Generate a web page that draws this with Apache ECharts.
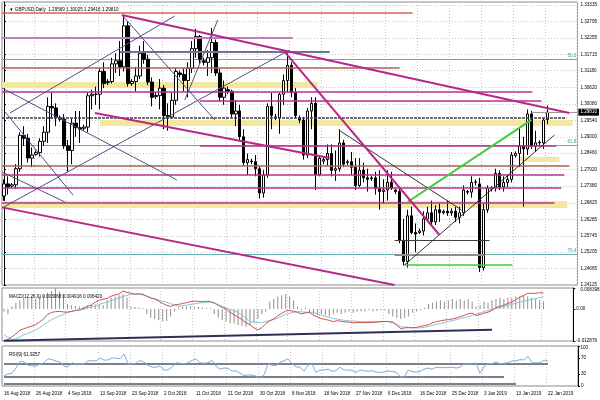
<!DOCTYPE html>
<html><head><meta charset="utf-8">
<script src="https://cdn.jsdelivr.net/npm/echarts@6/dist/echarts.min.js"></script>
<style>html,body{margin:0;padding:0;background:#fff}#c{width:600px;height:400px}</style>
</head><body><div id="c"></div>
<script>
// ---------- DATA ----------
const headerText = '\u25BC GBPUSD,Daily  1.29569 1.30025 1.29416 1.29810';
const macdText = 'MACD(12,26,9) 0.003068 0.004916 0.006420';
const rsiText = 'RSI(9) 61.9257';

const priceTickLabels = ['1.24125','1.24665','1.25205','1.25745','1.26285','1.26825','1.27380','1.27920','1.28460','1.29000','1.29540','1.30080','1.30620','1.31180','1.31715','1.32255','1.32795','1.33335'];
const macdTickLabels = ['-0.012876','0.00','0.008398'];
const rsiTickLabels = ['0','30','70','100'];
const dateTickLabels = ['16 Aug 2018','26 Aug 2018','4 Sep 2018','13 Sep 2018','23 Sep 2018','2 Oct 2018','11 Oct 2018','21 Oct 2018','30 Oct 2018','8 Nov 2018','18 Nov 2018','27 Nov 2018','6 Dec 2018','16 Dec 2018','25 Dec 2018','3 Jan 2019','13 Jan 2019','22 Jan 2019'];

const opens = [1.2705,1.2745,1.2738,1.2742,1.2795,1.2905,1.2895,1.2830,1.2842,1.2848,
1.2885,1.2915,1.3000,1.2995,1.2962,1.2958,1.2870,1.2855,1.2945,1.2930,
1.2928,1.2932,1.3035,1.3040,1.3040,1.3115,1.3078,1.3082,1.3140,1.3150,
1.3130,1.3265,1.3075,1.3082,1.3100,1.3175,1.3155,1.3080,1.3032,1.3036,
1.3060,1.2970,1.2965,1.3020,1.3110,1.3105,1.3085,1.3125,1.3190,1.3230,
1.3150,1.3145,1.3160,1.3210,1.3110,1.3030,1.3055,1.3050,1.2975,1.2985,
1.2900,1.2815,1.2820,1.2818,1.2795,1.2715,1.2775,1.3000,1.2965,1.2962,
1.3040,1.3085,1.3135,1.3045,1.2962,1.2955,1.2840,1.2985,1.3010,1.2775,
1.2820,1.2825,1.2845,1.2790,1.2795,1.2880,1.2815,1.2818,1.2800,1.2740,
1.2790,1.2765,1.2762,1.2765,1.2730,1.2720,1.2725,1.2750,1.2725,1.2720,
1.2560,1.2490,1.2640,1.2585,1.2585,1.2590,1.2630,1.2650,1.2620,1.2660,
1.2650,1.2655,1.2650,1.2655,1.2635,1.2650,1.2720,1.2718,1.2750,1.2745,
1.2470,1.2660,1.2728,1.2732,1.2780,1.2735,1.2750,1.2760,1.2838,1.2845,
1.2870,1.2860,1.2975,1.2870,1.2882,1.2880,1.29569];
const closes = [1.2745,1.2735,1.2742,1.2795,1.2905,1.2895,1.2830,1.2840,1.2848,1.2885,
1.2915,1.3000,1.2995,1.2965,1.2958,1.2870,1.2855,1.2945,1.2930,1.2925,
1.2932,1.3035,1.3040,1.3040,1.3115,1.3075,1.3082,1.3140,1.3150,1.3130,
1.3265,1.3075,1.3082,1.3100,1.3175,1.3155,1.3080,1.3030,1.3036,1.3060,
1.2970,1.2965,1.3020,1.3115,1.3105,1.3085,1.3125,1.3190,1.3230,1.3155,
1.3145,1.3160,1.3210,1.3110,1.3030,1.3060,1.3050,1.2975,1.2985,1.2900,
1.2815,1.2825,1.2818,1.2795,1.2715,1.2775,1.3000,1.2970,1.2962,1.3040,
1.3085,1.3135,1.3045,1.2970,1.2955,1.2840,1.2985,1.3010,1.2775,1.2830,
1.2825,1.2845,1.2790,1.2795,1.2880,1.2810,1.2818,1.2800,1.2740,1.2790,
1.2765,1.2760,1.2765,1.2730,1.2720,1.2725,1.2750,1.2730,1.2720,1.2560,
1.2490,1.2640,1.2585,1.2580,1.2590,1.2630,1.2650,1.2620,1.2660,1.2650,
1.2655,1.2650,1.2655,1.2635,1.2650,1.2725,1.2718,1.2750,1.2752,1.2470,
1.2660,1.2730,1.2732,1.2780,1.2735,1.2750,1.2760,1.2840,1.2845,1.2870,
1.2860,1.2975,1.2870,1.2880,1.2880,1.2955,1.29810];
const lows = [1.2690,1.2710,1.2732,1.2730,1.2785,1.2870,1.2815,1.2800,1.2838,1.2835,
1.2870,1.2880,1.2960,1.2935,1.2950,1.2860,1.2785,1.2810,1.2900,1.2880,
1.2920,1.2915,1.2990,1.3005,1.2990,1.3060,1.3070,1.3075,1.3110,1.3100,
1.3115,1.3065,1.3068,1.3050,1.3090,1.3140,1.3070,1.3000,1.3025,1.2990,
1.2925,1.2920,1.2960,1.3005,1.3095,1.3050,1.3030,1.3110,1.3160,1.3140,
1.3135,1.3100,1.3110,1.3100,1.3015,1.3005,1.3040,1.2965,1.2935,1.2885,
1.2805,1.2775,1.2810,1.2770,1.2697,1.2700,1.2765,1.2925,1.2955,1.2910,
1.3005,1.3045,1.3030,1.2960,1.2945,1.2825,1.2830,1.2925,1.2725,1.2770,
1.2810,1.2805,1.2770,1.2755,1.2785,1.2800,1.2808,1.2775,1.2725,1.2735,
1.2750,1.2720,1.2755,1.2710,1.2660,1.2680,1.2690,1.2725,1.2712,1.2550,
1.2477,1.2470,1.2580,1.2520,1.2580,1.2575,1.2620,1.2610,1.2610,1.2620,
1.2645,1.2640,1.2640,1.2620,1.2615,1.2640,1.2710,1.2700,1.2740,1.2455,
1.2460,1.2650,1.2720,1.2720,1.2725,1.2720,1.2735,1.2750,1.2832,1.2800,
1.2670,1.2840,1.2860,1.2850,1.2872,1.2860,1.29416];
const highs = [1.2760,1.2770,1.2748,1.2810,1.2915,1.2935,1.2910,1.2865,1.2855,1.2895,
1.2935,1.3030,1.3045,1.3010,1.2970,1.2975,1.2890,1.2960,1.2985,1.2985,
1.2940,1.3045,1.3055,1.3065,1.3125,1.3145,1.3090,1.3160,1.3175,1.3215,
1.3298,1.3280,1.3090,1.3130,1.3200,1.3215,1.3170,1.3095,1.3045,1.3090,
1.3070,1.3010,1.3045,1.3125,1.3118,1.3125,1.3145,1.3215,1.3255,1.3235,
1.3160,1.3185,1.3258,1.3220,1.3125,1.3085,1.3065,1.3055,1.3020,1.3005,
1.2925,1.2845,1.2828,1.2840,1.2805,1.2790,1.3010,1.3045,1.2975,1.3045,
1.3105,1.3175,1.3145,1.3060,1.2970,1.2965,1.2995,1.3030,1.3030,1.2840,
1.2835,1.2875,1.2875,1.2855,1.2925,1.2890,1.2825,1.2850,1.2830,1.2830,
1.2815,1.2795,1.2772,1.2785,1.2790,1.2760,1.2790,1.2785,1.2730,1.2735,
1.2630,1.2660,1.2670,1.2615,1.2598,1.2655,1.2670,1.2690,1.2675,1.2680,
1.2660,1.2690,1.2665,1.2670,1.2670,1.2740,1.2725,1.2770,1.2760,1.2765,
1.2680,1.2740,1.2738,1.2795,1.2790,1.2770,1.2775,1.2850,1.2852,1.2930,
1.2900,1.2990,1.2985,1.2920,1.2888,1.2960,1.30025];

const macdLine = [-0.012876,-0.0122,-0.0112,-0.0100,-0.0086,-0.0080,-0.0074,-0.0069,-0.0063,-0.0052,
-0.0040,-0.0022,-0.0014,-0.0011,-0.0010,-0.0012,-0.0013,-0.0010,-0.0006,-0.0003,
0.0002,0.0010,0.0016,0.0027,0.0034,0.0039,0.0042,0.0051,0.0056,0.0060,
0.0072,0.0066,0.0063,0.0059,0.0061,0.0059,0.0051,0.0043,0.0040,0.0031,
0.0022,0.0015,0.0010,0.0016,0.0018,0.0022,0.0025,0.0029,0.0031,0.0030,
0.0030,0.0031,0.0030,0.0024,0.0014,0.0006,0.0000,-0.0014,-0.0023,-0.0033,
-0.0043,-0.0055,-0.0064,-0.0076,-0.0084,-0.0075,-0.0059,-0.0048,-0.0040,-0.0027,
-0.0018,-0.0008,-0.0006,-0.0010,-0.0014,-0.0020,-0.0016,-0.0014,-0.0026,-0.0032,
-0.0039,-0.0042,-0.0046,-0.0051,-0.0047,-0.0050,-0.0052,-0.0053,-0.0056,-0.0055,
-0.0055,-0.0055,-0.0055,-0.0054,-0.0053,-0.0051,-0.0050,-0.0051,-0.0053,-0.0065,
-0.0080,-0.0076,-0.0075,-0.0076,-0.0074,-0.0070,-0.0067,-0.0063,-0.0056,-0.0051,
-0.0048,-0.0045,-0.0043,-0.0040,-0.0036,-0.0031,-0.0026,-0.0019,-0.0017,-0.0026,
-0.0023,-0.0017,-0.0013,-0.0006,0.0006,0.0010,0.0015,0.0022,0.0028,0.0037,
0.0047,0.0054,0.0063,0.0062,0.0063,0.0065,0.006420];
const macdSignal = [-0.0104,-0.0115,-0.0123,-0.0120,-0.0113,-0.0104,-0.0098,-0.0091,-0.0084,-0.0075,
-0.0064,-0.0053,-0.0043,-0.0035,-0.0028,-0.0022,-0.0014,-0.0010,-0.0007,-0.0005,
-0.0002,0.0003,0.0008,0.0013,0.0018,0.0023,0.0028,0.0034,0.0039,0.0044,
0.0050,0.0054,0.0059,0.0059,0.0059,0.0056,0.0051,0.0046,0.0041,0.0036,
0.0031,0.0027,0.0021,0.0016,0.0010,0.0013,0.0015,0.0018,0.0020,0.0023,
0.0025,0.0026,0.0027,0.0023,0.0018,0.0010,0.0004,-0.0002,-0.0008,-0.0014,
-0.0025,-0.0035,-0.0051,-0.0053,-0.0055,-0.0055,-0.0050,-0.0046,-0.0043,-0.0036,
-0.0029,-0.0022,-0.0017,-0.0013,-0.0010,-0.0012,-0.0013,-0.0013,-0.0014,-0.0020,
-0.0025,-0.0030,-0.0035,-0.0038,-0.0041,-0.0044,-0.0046,-0.0048,-0.0049,-0.0050,
-0.0051,-0.0051,-0.0051,-0.0051,-0.0051,-0.0051,-0.0051,-0.0051,-0.0056,-0.0063,
-0.0072,-0.0073,-0.0074,-0.0075,-0.0076,-0.0076,-0.0074,-0.0070,-0.0066,-0.0062,
-0.0059,-0.0055,-0.0051,-0.0047,-0.0043,-0.0039,-0.0035,-0.0031,-0.0026,-0.0021,
-0.0017,-0.0010,-0.0006,-0.0002,0.0002,0.0006,0.0010,0.0014,0.0018,0.0023,
0.0027,0.0031,0.0035,0.0038,0.0041,0.0045,0.004916];
const macdHist = [-0.0010,-0.0020,0.0010,0.0025,0.0035,0.0040,0.0042,0.0045,0.0040,0.0048,
0.0055,0.0065,0.0072,0.008398,0.0070,0.0060,0.0020,0.0015,0.0012,0.0010,
0.0010,0.0015,0.0016,0.0018,0.0018,0.0016,0.0035,0.0045,0.0050,0.0055,
0.0060,0.0045,0.0010,0.0008,0.0006,0.0004,-0.0020,-0.0035,-0.0040,-0.0045,
-0.0050,-0.0048,-0.0030,-0.0010,0.0005,0.0010,0.0010,0.0012,0.0010,0.0008,
0.0006,0.0005,0.0003,-0.0020,-0.0035,-0.0045,-0.0050,-0.0058,-0.0060,-0.0065,
-0.0070,-0.0072,-0.0065,-0.0055,-0.0040,-0.0020,-0.0010,0.0030,0.0040,0.0050,
0.0055,0.0060,0.0050,0.0035,0.0010,-0.0005,0.0005,-0.0015,-0.0020,-0.0025,
-0.0020,-0.0025,-0.0030,-0.0020,-0.0015,-0.0020,-0.0015,-0.0010,-0.0015,-0.0010,
-0.0010,-0.0010,-0.0005,-0.0010,-0.0008,-0.0005,-0.0005,-0.0020,-0.0030,-0.0035,
-0.0040,-0.0035,-0.0030,-0.0015,-0.0010,-0.0005,0.0005,0.0020,0.0025,0.0030,
0.0035,0.0030,0.0035,0.0040,0.0035,0.0040,0.0035,0.0040,0.0030,0.0010,
0.0015,0.0030,0.0025,0.0035,0.0040,0.0045,0.0040,0.0045,0.0045,0.0050,
0.0050,0.0055,0.0050,0.0045,0.0040,0.0035,0.003068];
const rsiValues = [25,30,32,45,62,60,52,50,50,55,
58,68,66,62,60,50,48,58,55,55,
55,63,63,63,70,65,65,70,70,68,
80,55,55,57,64,60,52,47,47,50,
40,40,47,58,57,55,58,64,68,58,
57,58,64,50,42,45,44,37,38,32,
26,28,27,25,20,28,55,52,51,59,
63,68,56,48,47,37,52,55,34,40,
40,42,37,38,47,40,40,39,34,40,
38,37,38,35,34,35,38,36,35,24,
20,40,36,35,36,42,45,42,47,46,
46,46,47,45,47,55,54,57,57,32,
48,56,56,60,55,57,58,63,63,66,
65,74,58,58,58,65,61.93];

// drawn objects: [barIndex1, price1, barIndex2, price2]
const redLevels = [[-0.5,1.33074,102.25,1.33074]];
const lilacLevels = [[-0.5,1.32251,72.25,1.32251]];
const slateLevels = [[29,1.31791,81.5,1.31791]];
const brownLevels = [[-0.5,1.31264,99,1.31264],[-0.5,1.28040,141.5,1.28040]];
const magentaLevels = [[-0.5,1.30475,132.25,1.30475],[49,1.30179,134.5,1.30179],[49,1.28698,138.25,1.28698],[-0.5,1.27744,140.25,1.27744],[-0.5,1.27316,139.5,1.27316],[-0.5,1.26823,137.75,1.26823]];
const darkDashedLevels = [[-0.5,1.29619,140.75,1.29619]];
const darkLevels = [[97.75,1.25605,121.5,1.25605]];
const grayLevels = [[97.75,1.25112,120.25,1.25112]];
const greenLevels = [[100.25,1.24783,127.25,1.24783]];
// bands: [barIndex1, barIndex2, priceTop, priceBottom]
const yellowBands = [[-0.5,78.5,1.30804,1.30607],[24,142.25,1.29554,1.29356],[129,139,1.28336,1.28172],[-0.5,141,1.26889,1.26658]];
const fibLevels = [1.31560,1.28731,1.25145];
const fibLabels = ['50.0','61.8','76.4'];
const magentaTrends = [[29.5,1.33008,141.5,1.29784],[-0.5,1.26678,97.75,1.24125],[22.75,1.29784,81.5,1.28303],[70.25,1.31791,109,1.25770]];
const slateTrends = [[-0.5,1.26658,71.5,1.31857],[1.5,1.29784,42.75,1.32975],[-0.5,1.30606,43.25,1.27580],[29.5,1.33008,52.75,1.29554],[45.25,1.30212,53.5,1.32844],[0.25,1.29817,17.25,1.27086],[-0.5,1.27843,15.25,1.26856]];
const darkTrends = [[83.75,1.29225,114.5,1.26593],[100.25,1.24783,137.75,1.29060]];
const greenTrends = [[101,1.26856,132,1.29554]];
const bidLine = [[132,1.29810,143.5,1.29810]];
const bidPrice = 1.29810;
const bidLabel = '1.29810';
const macdTrend = [[0,-0.0128,123,-0.0084]];
const rsiLevels = [[0,55,136,55],[0,24,125,24],[0,5,128,5]];

// ---------- BUILD ----------
const slotCount = 144;
const categories = [];
(function(){ const d = new Date(Date.UTC(2018,7,16));
  while (categories.length < slotCount) {
    if (d.getUTCDay() !== 6) categories.push(d.toISOString().slice(0,10));
    d.setUTCDate(d.getUTCDate()+1);
  }})();
const priceTicks = priceTickLabels.map(Number);
const macdTicks = macdTickLabels.map(Number);
const rsiTicks = rsiTickLabels.map(Number);
function nearestLabel(ticks, labels, v){ let b=0; for(let k=1;k<ticks.length;k++){ if(Math.abs(ticks[k]-v)<Math.abs(ticks[b]-v)) b=k; } return labels[b]; }

const FONT = '"Liberation Sans", Arial, sans-serif';
const FS = 4.6;
const dotted = {show:true, lineStyle:{color:'#c6c6c6', type:[1,2], width:1}};

function catAxis(gi, showLabels){
  return {type:'category', gridIndex:gi, data:categories, boundaryGap:true,
    axisLine:{show:false}, axisTick:{show:false},
    axisLabel: showLabels ? {show:true, interval:7, align:'left', fontSize:FS, color:'#000', fontFamily:FONT, margin:5,
      formatter:(v,idx)=> (idx%8===0 && dateTickLabels[idx/8]) ? dateTickLabels[idx/8] : ''} : {show:false},
    splitLine:{show:true, interval:7, lineStyle:{color:'#c6c6c6', type:[1,2], width:1}}};
}
function segs(list){ return list.map(s=>({coords:[[s[0],s[1]],[s[2],s[3]]]})); }
function linesSeries(list, color, width, z, extra){
  return Object.assign({type:'lines', coordinateSystem:'cartesian2d', xAxisIndex:1, yAxisIndex:0, polyline:false, silent:true, z:z,
    lineStyle:{color:color, width:width, opacity:1, curveness:0}, data:segs(list)}, extra||{});
}
function valueAxis(gi, min, max, ticks, labelTicks, labels, split){
  return {type:'value', gridIndex:gi, position:'right', min:min, max:max,
    axisLine:{show:true, lineStyle:{color:'#000'}},
    axisTick:{show:true, length:2, customValues:ticks, lineStyle:{color:'#000'}},
    axisLabel:{show:true, customValues:labelTicks, showMinLabel:true, showMaxLabel:true, hideOverlap:false, fontSize:FS, color:'#000', margin:3, fontFamily:FONT,
      formatter:v=>nearestLabel(ticks, labels, v)},
    splitLine: split ? dotted : {show:false}};
}

const option = {
  animation:false,
  backgroundColor:'#ffffff',
  textStyle:{fontFamily:FONT},
  title:[
    {text:headerText, left:4, top:2, textStyle:{fontSize:FS, fontWeight:'normal', color:'#000', fontFamily:FONT}},
    {text:macdText, left:4, top:289, textStyle:{fontSize:FS, fontWeight:'normal', color:'#000', fontFamily:FONT}},
    {text:rsiText, left:4, top:347, textStyle:{fontSize:FS, fontWeight:'normal', color:'#000', fontFamily:FONT}}
  ],
  grid:[
    {left:2, width:576, top:2, height:283, show:true, borderColor:'#8a8a8a', borderWidth:1},
    {left:2, width:576, top:288, height:53, show:true, borderColor:'#8a8a8a', borderWidth:1},
    {left:2, width:576, top:346, height:40, show:true, borderColor:'#8a8a8a', borderWidth:1}
  ],
  xAxis:[
    catAxis(0,false),
    {type:'value', gridIndex:0, min:-0.5, max:slotCount-0.5, show:false},
    catAxis(1,false),
    catAxis(2,true)
  ],
  yAxis:[
    valueAxis(0, 1.24125, 1.33434, priceTicks, priceTicks, priceTickLabels, true),
    valueAxis(1, macdTicks[0], macdTicks[2], macdTicks, macdTicks.slice(0,2), macdTickLabels, false),
    valueAxis(2, 0, 100, rsiTicks, rsiTicks.slice(0,3), rsiTickLabels, false)
  ],
  series:[
    {type:'line', xAxisIndex:1, yAxisIndex:0, data:[], silent:true, z:1,
      markArea:{silent:true, itemStyle:{color:'#f4e7a0', opacity:1},
        data:yellowBands.map(b=>[{coord:[b[0],b[2]]},{coord:[b[1],b[3]]}])}},
    linesSeries(fibLevels.map(p=>[-0.5,p,slotCount-0.5,p]), '#66aeae', 1, 2, {
      data: fibLevels.map((p,k)=>({name:fibLabels[k], coords:[[-0.5,p],[slotCount-0.5,p]]})),
      label:{show:true, position:'insideEndTop', formatter:'{b}', fontSize:FS, color:'#4a9a9a', distance:1, fontFamily:FONT}}),
    {type:'candlestick', xAxisIndex:0, yAxisIndex:0, z:3, barWidth:3,
      itemStyle:{color:'#ffffff', color0:'#000000', borderColor:'#000000', borderColor0:'#000000', borderWidth:1},
      data:opens.map((o,i)=>[o, closes[i], lows[i], highs[i]]),
      markLine:{silent:true, symbol:'none', animation:false, precision:5,
        lineStyle:{color:'rgba(0,0,0,0)', width:1, opacity:1, type:'solid'},
        label:{show:true, position:'end', formatter:bidLabel, fontSize:FS, color:'#ffffff', backgroundColor:'#000000', padding:[1,2,1,2], distance:1, fontFamily:FONT, opacity:1},
        data:[{yAxis:bidPrice}]}},
    linesSeries(redLevels, '#e0604a', 1.5, 4),
    linesSeries(lilacLevels, '#c27bbd', 2, 4),
    linesSeries(slateLevels, '#6f7390', 2, 4),
    linesSeries(brownLevels, '#a85f55', 1.5, 4),
    linesSeries(magentaLevels, '#b8308c', 1.5, 4),
    linesSeries(darkDashedLevels, '#3c3c50', 1.5, 4, {lineStyle:{color:'#3c3c50', width:1.5, opacity:1, type:[3,1]}}),
    linesSeries(darkLevels, '#404040', 1, 4),
    linesSeries(grayLevels, '#8c8c8c', 2, 4),
    linesSeries(greenLevels, '#3ccc3c', 1.5, 4),
    linesSeries(slateTrends, '#4e5080', 1, 4),
    linesSeries(darkTrends, '#333333', 1, 4),
    linesSeries(greenTrends, '#3ccc3c', 2, 4),
    linesSeries(magentaTrends, '#b8278a', 2, 5),
    linesSeries(bidLine, '#9a9a9a', 1, 4),
    {type:'bar', xAxisIndex:2, yAxisIndex:1, barWidth:1, silent:true, itemStyle:{color:'#8e8e8e'}, data:macdHist},
    {type:'line', xAxisIndex:2, yAxisIndex:1, symbol:'none', silent:true, lineStyle:{color:'#7cc6dd', width:1}, data:macdSignal},
    {type:'line', xAxisIndex:2, yAxisIndex:1, symbol:'none', silent:true, lineStyle:{color:'#d2504a', width:1}, data:macdLine},
    {type:'lines', coordinateSystem:'cartesian2d', xAxisIndex:2, yAxisIndex:1, silent:true, z:4,
      lineStyle:{color:'#2e2e5a', width:2, opacity:1}, data:segs(macdTrend)},
    {type:'lines', coordinateSystem:'cartesian2d', xAxisIndex:3, yAxisIndex:2, silent:true, z:4,
      lineStyle:{color:'#555566', width:1.5, opacity:1}, data:segs(rsiLevels)},
    {type:'line', xAxisIndex:3, yAxisIndex:2, symbol:'none', silent:true, z:5, lineStyle:{color:'#7aaedb', width:1}, data:rsiValues}
  ]
};
const chart = echarts.init(document.getElementById('c'), null, {renderer:'canvas'});
chart.setOption(option);

// top-edge tick texts of the two sub-panels, positioned through the library's own scales
const xRight = chart.convertToPixel({xAxisIndex:1}, slotCount-0.5);
const edgeTexts = [
  {y: chart.convertToPixel({yAxisIndex:1}, macdTicks[2]), text: macdTickLabels[2]},
  {y: chart.convertToPixel({yAxisIndex:2}, rsiTicks[3]), text: rsiTickLabels[3]}
];
chart.setOption({graphic: edgeTexts.map(t=>({type:'text', silent:true, z:100, x:xRight+3, y:t.y+2,
  style:{text:t.text, fill:'#000', fontSize:FS, fontFamily:FONT, align:'left', verticalAlign:'middle'}}))});
</script></body></html>
